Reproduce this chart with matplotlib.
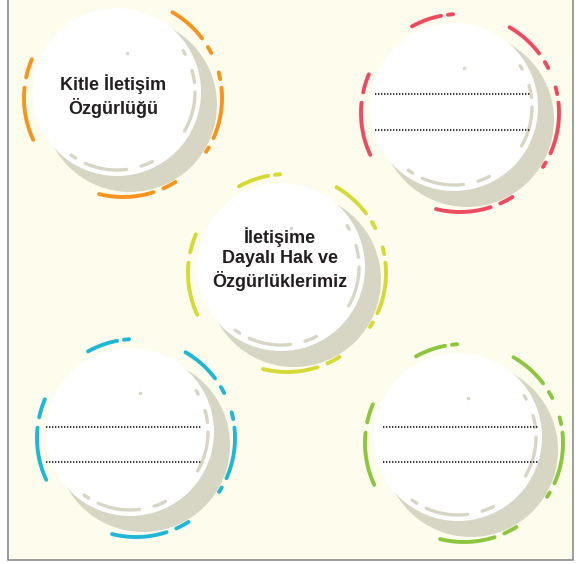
import numpy as np
import matplotlib.pyplot as plt
from matplotlib.patches import Circle, Rectangle

W, H = 588, 564

# five bubbles: label, ring colour, centre of the white disc
labels = ["Kitle İletişim\nÖzgürlüğü", "", "İletişime\nDayalı Hak ve\nÖzgürlüklerimiz", "", ""]
ring_colors = ["#F7941D", "#EE4B61", "#D5DA36", "#1FB7D5", "#8CC63F"]
centers_x = [117, 454, 281, 130, 458]
centers_y = [92, 107, 267, 432, 437]
text_x = [113, 0, 280, 0, 0]
text_y = [96, 0, 259, 0, 0]
has_top_dash = [False, True, True, True, True]

# dotted writing lines (only in the empty bubbles)
line_y = {1: (94, 130), 3: (427, 462), 4: (427, 462)}
line_x = {1: (375, 530), 3: (46, 202), 4: (383, 539)}

# dash pieces of the clip art, in degrees
ring_dashes = [(101, 119), (94, 97), (37, 60), (27, 31), (11, 15), (-24, 6),
               (-33, -30), (-66, -58), (-104, -72), (157, 168), (174, 205)]
inner_dashes = [(29, 32), (7, 16), (-30, 0), (-72, -63), (-114, -83), (-126, -122)]

CREAM = "#FEFCEC"
SHADOW = "#D7D6C5"
R_WHITE = 84
R_SHADOW = 87
R_RING = 99
R_INNER = 78


def arc(ax, cx, cy, r, a0, a1, color, lw, z):
    t = np.radians(np.linspace(a0, a1, 40))
    ax.plot(cx + r * np.cos(t), cy - r * np.sin(t), color=color, lw=lw,
            solid_capstyle="round", zorder=z)


fig = plt.figure(figsize=(W / 100, H / 100), dpi=100)
ax = fig.add_axes([0, 0, 1, 1])
ax.set_xlim(0, W)
ax.set_ylim(H, 0)
ax.axis("off")

ax.add_patch(Rectangle((8, -5), 565, 565, facecolor=CREAM, edgecolor="#8C8C8C", lw=1.2, zorder=0))

for i, (cx, cy) in enumerate(zip(centers_x, centers_y)):
    ax.add_patch(Circle((cx + 13, cy + 13), R_SHADOW, facecolor=SHADOW, edgecolor="none", zorder=1))
    ax.add_patch(Circle((cx, cy), R_WHITE, facecolor="white", edgecolor="none", zorder=2))

    for k, (a0, a1) in enumerate(ring_dashes):
        if k < 2 and not has_top_dash[i]:
            continue
        arc(ax, cx + 6, cy + 6, R_RING, a0, a1, ring_colors[i], 2.8, 3)

    for a0, a1 in inner_dashes:
        arc(ax, cx, cy, R_INNER, a0, a1, SHADOW, 2.4, 3)
    ax.plot(cx + 10, cy - 39, "o", ms=1.5, color=SHADOW, zorder=3)

    if i in line_y:
        for y in line_y[i]:
            ax.plot(line_x[i], [y, y], color="#111111", lw=1.2,
                    linestyle=(0, (0.8, 1.0)), zorder=4)

    if labels[i]:
        ax.text(text_x[i], text_y[i], labels[i], ha="center", va="center",
                fontsize=13, fontweight="bold", family="Liberation Sans",
                color="#231F20", linespacing=1.25, zorder=5)

fig.savefig("out.png", dpi=100, facecolor="white")
